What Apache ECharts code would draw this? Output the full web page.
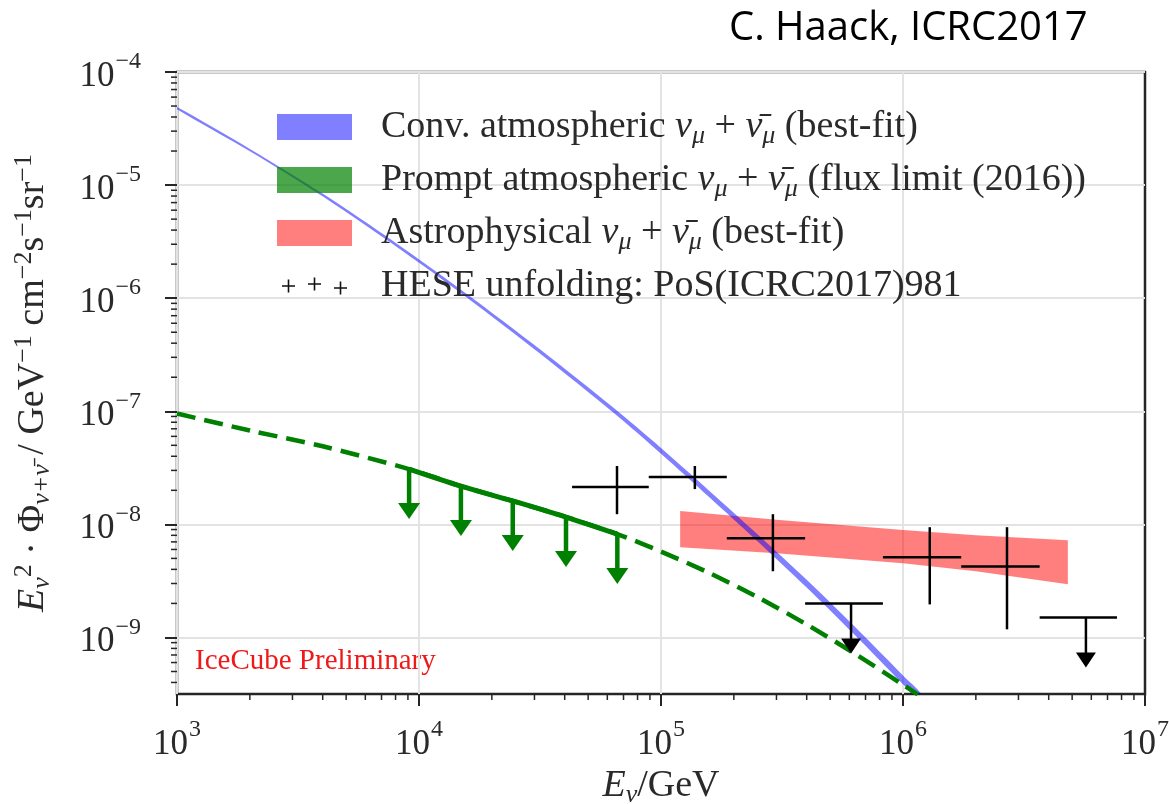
<!DOCTYPE html>
<html><head><meta charset="utf-8">
<script src="https://cdn.jsdelivr.net/npm/echarts@6/dist/echarts.min.js"></script>
<style>html,body{margin:0;padding:0;background:#fff}#c{width:1169px;height:804px}</style>
</head><body><div id="c"></div>
<script>
// ---------------- data ----------------
const X_MIN = 1e3, X_MAX = 1e7;
const Y_MIN = 3.1623e-10, Y_MAX = 1e-4;
const minorFactors = [2, 3, 4, 5, 6, 7, 8, 9];
const xDecades = [1e3, 1e4, 1e5, 1e6];
const yDecades = [1e-10, 1e-9, 1e-8, 1e-7, 1e-6, 1e-5];

// conventional atmospheric (best-fit band)
const convE    = [1e3, 2e3, 3.98e3, 7.94e3, 1.58e4, 3.16e4, 6.31e4, 1e5, 1.58e5, 2.51e5, 3.98e5, 6.31e5, 1e6, 1.2e6];
const convHigh = [4.90e-5, 2.09e-5, 8.45e-6, 3.12e-6, 1.086e-6, 3.54e-7, 1.089e-7, 4.73e-8, 1.986e-8, 8.15e-9, 3.27e-9, 1.25e-9, 4.62e-10, 3.10e-10];
const convLow  = [4.68e-5, 1.99e-5, 8.00e-6, 2.92e-6, 1.009e-6, 3.24e-7, 9.84e-8, 4.22e-8, 1.746e-8, 7.06e-9, 2.79e-9, 1.054e-9, 3.85e-10, 2.56e-10];

// prompt atmospheric (flux limit 2016)
const promptE    = [1e3, 2e3, 4e3, 9.1e3, 1.49e4, 2.44e4, 4.05e4, 6.6e4, 1e5, 1.58e5, 2.51e5, 3.98e5, 6.31e5, 1e6, 1.15e6];
const promptFlux = [9.55e-8, 6.76e-8, 4.90e-8, 3.08e-8, 2.18e-8, 1.61e-8, 1.16e-8, 8.2e-9, 5.75e-9, 3.72e-9, 2.27e-9, 1.31e-9, 7.21e-10, 3.82e-10, 3.14e-10];
const promptLimitE    = [9.1e3, 1.49e4, 2.44e4, 4.05e4, 6.6e4];
const promptLimitFlux = [3.08e-8, 2.18e-8, 1.61e-8, 1.16e-8, 8.2e-9];

// astrophysical (best-fit band)
const astroE    = [1.2e5, 3e5, 1e6, 2e6, 4.8e6];
const astroHigh = [1.31e-8, 1.10e-8, 8.9e-9, 8.0e-9, 7.24e-9];
const astroLow  = [6.28e-9, 5.56e-9, 4.53e-9, 3.85e-9, 2.95e-9];

// HESE unfolding points
const heseE        = [6.58e4, 1.38e5, 2.9e5, 6.1e5, 1.29e6, 2.69e6, 5.7e6];
const heseELow     = [4.29e4, 8.9e4, 1.87e5, 3.94e5, 8.26e5, 1.74e6, 3.67e6];
const heseEHigh    = [8.9e4, 1.87e5, 3.94e5, 8.26e5, 1.74e6, 3.67e6, 7.66e6];
const heseFlux     = [2.14e-8, 2.62e-8, 7.55e-9, 2.0e-9, 5.12e-9, 4.25e-9, 1.5e-9];
const heseFluxLow  = [1.23e-8, 2.05e-8, 3.85e-9, null, 1.96e-9, 1.18e-9, null];
const heseFluxHigh = [3.28e-8, 3.28e-8, 1.23e-8, null, 9.44e-9, 9.44e-9, null];
const heseIsLimit  = [false, false, false, true, false, false, true];

// ---------------- chart ----------------
const serif = "'Liberation Serif', 'DejaVu Serif', serif";
const INK = '#262626';
const TXT = '#2a2a2a';

const xMinor = [];
xDecades.forEach(d => minorFactors.forEach(f => xMinor.push(f * d)));
const yMinor = [];
yDecades.forEach(d => minorFactors.forEach(f => { if (f * d >= Y_MIN && f * d <= Y_MAX) yMinor.push(f * d); }));

function expLabel(v) {
  const e = Math.round(Math.log10(v));
  return '{b|10}{s|' + (e < 0 ? '\u2212' : '') + Math.abs(e) + '}';
}
const labelRich = {
  b: { fontFamily: serif, fontSize: 35, color: TXT, lineHeight: 44, verticalAlign: 'bottom' },
  s: { fontFamily: serif, fontSize: 24, color: TXT, lineHeight: 26, verticalAlign: 'top', padding: [0, 0, 0, 1] }
};
const textRich = {
  t:   { fontFamily: serif, fontSize: 38, color: TXT, lineHeight: 44 },
  i:   { fontFamily: serif, fontSize: 38, color: TXT, lineHeight: 44, fontStyle: 'italic' },
  sub: { fontFamily: serif, fontSize: 26, color: TXT, lineHeight: 22, fontStyle: 'italic', verticalAlign: 'bottom' },
  sup: { fontFamily: serif, fontSize: 26, color: TXT, lineHeight: 22, verticalAlign: 'top' },
  g:   { fontFamily: serif, fontSize: 10, width: 24 }
};
const nuBar = '\u03BD\u0304';
const legendText = {
  conv:   '{g| }{t|Conv. atmospheric }{i|\u03BD}{sub|\u03BC}{t| + }{i|' + nuBar + '}{sub|\u03BC}{t| (best-fit)}',
  prompt: '{g| }{t|Prompt atmospheric }{i|\u03BD}{sub|\u03BC}{t| + }{i|' + nuBar + '}{sub|\u03BC}{t| (flux limit (2016))}',
  astro:  '{g| }{t|Astrophysical }{i|\u03BD}{sub|\u03BC}{t| + }{i|' + nuBar + '}{sub|\u03BC}{t| (best-fit)}',
  hese:   '{g| }{t|HESE unfolding: PoS(ICRC2017)981}'
};
// three small plus signs (legend icon for the data points), 74x26 box
function plusPath(cx, cy) {
  return 'M' + (cx - 6.5) + ' ' + (cy - 0.8) + 'h13v1.6h-13Z' + 'M' + (cx - 0.8) + ' ' + (cy - 6.5) + 'h1.6v13h-1.6Z';
}
const heseIcon = 'path://M0 0h0.01v0.01h-0.01Z M73.99 25.99h0.01v0.01h-0.01Z ' +
  plusPath(11, 13) + plusPath(37, 11) + plusPath(63, 15);

function bandSeries(name, E, lo, hi, color, smooth, z) {
  return {
    type: 'custom', name: name, clip: true, z: z, silent: true,
    data: [[E[0], hi[0]]],
    renderItem: function (params, api) {
      const pts = [];
      for (let i = 0; i < E.length; i++) pts.push(api.coord([E[i], hi[i]]));
      for (let i = E.length - 1; i >= 0; i--) pts.push(api.coord([E[i], lo[i]]));
      return { type: 'polygon', shape: { points: pts, smooth: smooth }, style: { fill: color } };
    }
  };
}

const option = {
  animation: false,
  backgroundColor: '#fff',
  grid: { left: 177, right: 24, top: 72, bottom: 110, show: true, borderColor: INK, borderWidth: 2.5,
          backgroundColor: 'transparent', outerBoundsMode: 'none', containLabel: false },
  xAxis: {
    type: 'log', logBase: 10, min: X_MIN, max: X_MAX,
    axisLine: { show: false },
    axisTick: { show: true, inside: false, length: 12, lineStyle: { color: INK, width: 2 } },
    splitLine: { show: true, showMinLine: false, showMaxLine: false, lineStyle: { color: '#e3e3e3', width: 2 } },
    axisLabel: { margin: 24, formatter: expLabel, rich: labelRich },
    name: '{i|E}{sub|\u03BD}{t|/GeV}', nameLocation: 'middle', nameGap: 60,
    nameTextStyle: { rich: textRich }
  },
  yAxis: {
    type: 'log', logBase: 10, min: Y_MIN, max: Y_MAX,
    axisLine: { show: false },
    axisTick: { show: true, inside: false, length: 12, lineStyle: { color: INK, width: 2 } },
    splitLine: { show: true, showMinLine: false, showMaxLine: false, lineStyle: { color: '#e3e3e3', width: 2 } },
    axisLabel: { margin: 36, showMinLabel: false, formatter: expLabel, rich: labelRich },
    name: '{i|E}{sub|\u03BD}{sup|2}{t| \u00B7 \u03A6}{sub|\u03BD+' + nuBar + '}{t| / GeV}{sup|\u22121}{t| cm}{sup|\u22122}{t|s}{sup|\u22121}{t|sr}{sup|\u22121}',
    nameLocation: 'middle', nameRotate: 90, nameGap: 122,
    nameTextStyle: { rich: textRich }
  },
  legend: {
    orient: 'vertical', left: 272, top: 103, itemGap: 12, itemWidth: 75, itemHeight: 26,
    selectedMode: false,
    formatter: function (n) { return legendText[n]; },
    textStyle: { rich: textRich },
    data: [
      { name: 'conv', icon: 'rect', itemStyle: { color: 'rgba(0,0,255,0.5)', borderWidth: 0 } },
      { name: 'prompt', icon: 'rect', itemStyle: { color: 'rgba(0,128,0,0.7)', borderWidth: 0 } },
      { name: 'astro', icon: 'rect', itemStyle: { color: 'rgba(255,0,0,0.5)', borderWidth: 0 } },
      { name: 'hese', icon: heseIcon, itemStyle: { color: '#111', borderWidth: 0 } }
    ]
  },
  graphic: [
    { type: 'text', left: 729, top: 9, style: { text: 'C. Haack, ICRC2017', font: "40px 'Open Sans', sans-serif", fill: '#000' } },
    { type: 'text', left: 195, top: 647, style: { text: 'IceCube Preliminary', font: "29px 'Liberation Serif', serif", fill: '#f01818' } }
  ],
  series: [
    bandSeries('astro', astroE, astroLow, astroHigh, 'rgba(255,0,0,0.5)', 0, 1),
    bandSeries('conv', convE, convLow, convHigh, 'rgba(0,0,255,0.5)', 0.3, 2),
    {
      type: 'line', name: 'prompt', z: 3, silent: true, showSymbol: false, smooth: 0.3,
      data: promptE.map((e, i) => [e, promptFlux[i]]),
      lineStyle: { color: '#008000', width: 4.5, type: [19, 9], cap: 'butt' },
      itemStyle: { color: '#008000' }
    },
    {
      type: 'line', name: 'prompt', z: 4, silent: true, showSymbol: false, smooth: 0.3,
      data: promptLimitE.map((e, i) => [e, promptLimitFlux[i]]),
      lineStyle: { color: '#008000', width: 5, type: 'solid', cap: 'butt' },
      itemStyle: { color: '#008000' }
    },
    {
      type: 'custom', name: 'prompt', z: 4, silent: true, clip: false,
      data: promptLimitE.map((e, i) => [e, promptLimitFlux[i]]),
      renderItem: function (params, api) {
        const p = api.coord([api.value(0), api.value(1)]);
        const L = 50, H = 16, W = 11;
        return { type: 'group', children: [
          { type: 'line', shape: { x1: p[0], y1: p[1], x2: p[0], y2: p[1] + L - H + 1 }, style: { stroke: '#008000', lineWidth: 4.5 } },
          { type: 'polygon', shape: { points: [[p[0] - W, p[1] + L - H], [p[0] + W, p[1] + L - H], [p[0], p[1] + L]] }, style: { fill: '#008000' } }
        ] };
      }
    },
    {
      type: 'custom', name: 'hese', z: 5, silent: true, clip: false,
      data: heseE.map((e, i) => [e, heseFlux[i]]),
      renderItem: function (params, api) {
        const i = params.dataIndex;
        const c = api.coord([heseE[i], heseFlux[i]]);
        const l = api.coord([heseELow[i], heseFlux[i]]);
        const r = api.coord([heseEHigh[i], heseFlux[i]]);
        const st = { stroke: '#000', lineWidth: 2.5 };
        const ch = [{ type: 'line', shape: { x1: l[0], y1: l[1], x2: r[0], y2: r[1] }, style: st }];
        if (heseIsLimit[i]) {
          const L = 50, H = 15, W = 10;
          ch.push({ type: 'line', shape: { x1: c[0], y1: c[1], x2: c[0], y2: c[1] + L - H + 1 }, style: st });
          ch.push({ type: 'polygon', shape: { points: [[c[0] - W, c[1] + L - H], [c[0] + W, c[1] + L - H], [c[0], c[1] + L]] }, style: { fill: '#000' } });
        } else {
          const t = api.coord([heseE[i], heseFluxHigh[i]]);
          const b = api.coord([heseE[i], heseFluxLow[i]]);
          ch.push({ type: 'line', shape: { x1: t[0], y1: t[1], x2: b[0], y2: b[1] }, style: st });
        }
        return { type: 'group', children: ch };
      }
    },
    {
      type: 'custom', name: 'xminor', z: 6, silent: true, clip: false,
      data: xMinor.map(v => [v, Y_MIN]),
      renderItem: function (params, api) {
        const p = api.coord([api.value(0), Y_MIN]);
        return { type: 'line', shape: { x1: p[0], y1: p[1], x2: p[0], y2: p[1] + 6 }, style: { stroke: INK, lineWidth: 1.5 } };
      }
    },
    {
      type: 'custom', name: 'yminor', z: 6, silent: true, clip: false,
      data: yMinor.map(v => [X_MIN, v]),
      renderItem: function (params, api) {
        const p = api.coord([X_MIN, api.value(1)]);
        return { type: 'line', shape: { x1: p[0], y1: p[1], x2: p[0] - 6, y2: p[1] }, style: { stroke: INK, lineWidth: 1.5 } };
      }
    }
  ]
};
const chart = echarts.init(document.getElementById('c'));
chart.setOption(option);
</script>
</body></html>
